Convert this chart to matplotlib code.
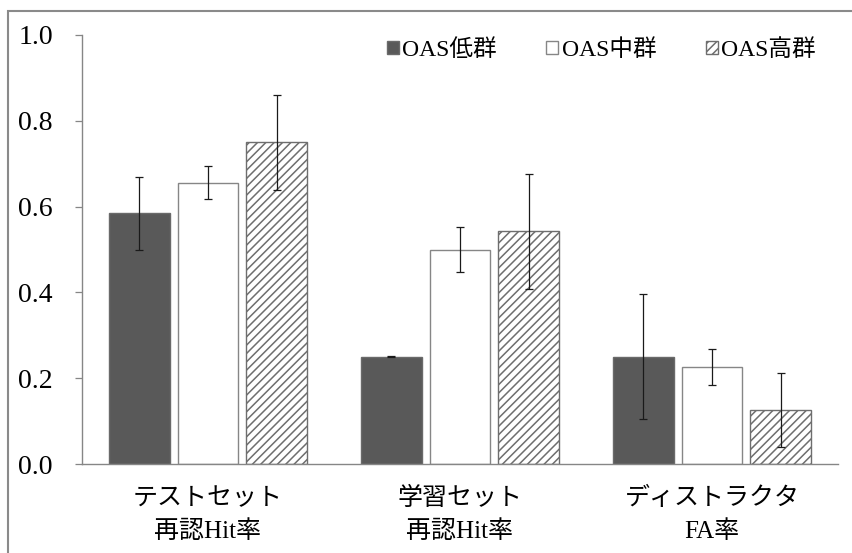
import numpy as np
import matplotlib
matplotlib.use("Agg")
import matplotlib.pyplot as plt
from matplotlib.patches import Patch, Rectangle

# recognition rates per OAS group
groups = ["OAS低群", "OAS中群", "OAS高群"]
cat_top = ["テストセット", "学習セット", "ディストラクタ"]
cat_bottom = ["再認Hit率", "再認Hit率", "FA率"]

low_mean = [0.584, 0.250, 0.250]
low_err = [0.084, 0.001, 0.146]
mid_mean = [0.656, 0.500, 0.225]
mid_err = [0.039, 0.052, 0.042]
high_mean = [0.750, 0.542, 0.125]
high_err = [0.111, 0.135, 0.086]

yticks = [0.0, 0.2, 0.4, 0.6, 0.8, 1.0]

MIX = ["Liberation Serif", "Noto Sans CJK JP"]
GOTHIC = ["Noto Sans CJK JP", "DejaVu Sans"]
GRAY = "#868686"

plt.rcParams["hatch.linewidth"] = 1.1

fig = plt.figure(figsize=(8.53, 5.53), dpi=100)
ax = fig.add_axes([82 / 853, 1 - 464 / 553, 756 / 853, 429 / 553])

x = np.arange(len(cat_top))
width = 0.24
step = 0.272

styles = [
    dict(color="#595959", edgecolor="#6a6a6a"),
    dict(color="white", edgecolor=GRAY),
    dict(color="white", edgecolor="#6e6e6e", hatch="////"),
]
means = [low_mean, mid_mean, high_mean]
errs = [low_err, mid_err, high_err]

for i in range(3):
    pos = x + (i - 1) * step
    ax.bar(pos, means[i], width, linewidth=1.0, zorder=2, **styles[i])
    ax.errorbar(pos, means[i], yerr=errs[i], fmt="none", ecolor="#1a1a1a",
                elinewidth=0.9, capsize=3.2, capthick=0.9, zorder=3)

ax.set_xlim(-0.5, 2.5)
ax.set_ylim(0, 1.0)
ax.set_yticks(yticks)
ax.set_yticklabels([f"{v:.1f}" for v in yticks], family="Liberation Serif", fontsize=20)
ax.tick_params(axis="y", direction="out", length=5, width=0.9, color=GRAY, pad=16)
ax.set_xticks([])

for s in ["top", "right"]:
    ax.spines[s].set_visible(False)
for s in ["left", "bottom"]:
    ax.spines[s].set_color(GRAY)
    ax.spines[s].set_linewidth(1.0)

# two-line category labels
for xi, top, bot in zip(x, cat_top, cat_bottom):
    ax.text(xi, -0.08, top, transform=ax.get_xaxis_transform(), ha="center",
            va="center", family=GOTHIC, fontsize=18)
    ax.text(xi, -0.157, bot, transform=ax.get_xaxis_transform(), ha="center",
            va="center", family=MIX, fontsize=18)

handles = [Patch(facecolor=s["color"], edgecolor=s["edgecolor"], hatch=s.get("hatch"),
                 linewidth=1.0) for s in styles]
ax.legend(handles, groups, ncol=3, loc="upper right", bbox_to_anchor=(0.999, 1.04),
          frameon=False, prop=dict(family=MIX, size=17), handlelength=0.5,
          handleheight=0.5, handletextpad=0.15, columnspacing=2.1)

# outer frame, only its top and left edges fall inside the canvas
fig.add_artist(Rectangle((8 / 853, -0.05), 1.0, 1 - 11 / 553 + 0.05,
                         transform=fig.transFigure, fill=False,
                         edgecolor="#8a8a8a", linewidth=1.5, clip_on=False))

fig.savefig("out.png", dpi=100)
